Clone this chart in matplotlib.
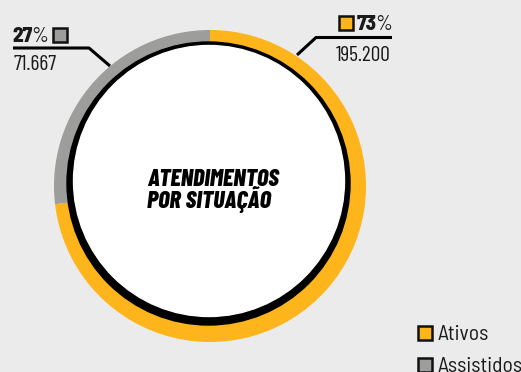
import matplotlib
matplotlib.use("Agg")
import matplotlib.pyplot as plt
from matplotlib.patches import Circle, Rectangle

# Data
categories = ["Ativos", "Assistidos"]
counts = [195200, 71667]
count_labels = ["195.200", "71.667"]
pct_labels = ["73", "27"]
colors = ["#FDB51B", "#9D9D9B"]
title_lines = ["ATENDIMENTOS", "POR SITUAÇÃO"]

FONT = "Barlow Condensed"
WIDE_FONT = "Barlow Semi Condensed"
BG = "#EBEBEB"
TXT = "#1A1A1A"
W, H = 521, 372

fig = plt.figure(figsize=(W / 100, H / 100), dpi=100, facecolor=BG)
ax = fig.add_axes([0, 0, 1, 1])
ax.set_facecolor(BG)


def Y(py):
    return H - py


# donut ring
cx, cy, R = 210, Y(186), 156
ax.pie(counts, colors=colors, startangle=90, counterclock=False,
       radius=R, center=(cx, cy), wedgeprops=dict(linewidth=0))
# inner disc with black rim
ax.add_patch(Circle((208.5, Y(183.5)), 141.5, color="black", zorder=3))
ax.add_patch(Circle((209, Y(181)), 135.5, color="white", zorder=4))

ax.set_xlim(0, W)
ax.set_ylim(0, H)
ax.set_aspect("equal")
ax.axis("off")

# center title
for i, line in enumerate(title_lines):
    ax.text(147, Y(185.5 + i * 22.5), line, family=FONT, fontsize=17.5,
            fontweight="heavy", style="italic", ha="left", va="baseline",
            color="black", zorder=5)

# leader lines
ax.plot([13, 89, 110], [Y(48), Y(48), Y(66)], color="black", lw=2.2,
        solid_capstyle="butt", zorder=5)
ax.plot([297, 316, 392], [Y(55), Y(37.5), Y(37.5)], color="black", lw=2.2,
        solid_capstyle="butt", zorder=5)


def square(x, y, c, s=14):
    ax.add_patch(Rectangle((x, Y(y) - s), s, s, facecolor=c,
                           edgecolor="#111111", lw=1.8, zorder=6))


renderer = fig.canvas.get_renderer()


def pct_text(x, ybase, value):
    t = ax.text(x, Y(ybase), value, family=WIDE_FONT, fontsize=15, fontweight="heavy",
                ha="left", va="baseline", color=TXT)
    bb = t.get_window_extent(renderer)
    ax.text(bb.x1 - 1.5, Y(ybase), "%", family=WIDE_FONT, fontsize=15,
            fontweight="normal", ha="left", va="baseline", color=TXT)


# left label (Assistidos)
pct_text(12.5, 42, pct_labels[1])
square(52.5, 27.5, colors[1])
ax.text(13, Y(70.5), count_labels[1], family=FONT, fontsize=15.5,
        fontweight="normal", ha="left", va="baseline", color=TXT)

# right label (Ativos)
square(338.5, 16, colors[0])
pct_text(356.5, 30, pct_labels[0])
ax.text(391, Y(61), count_labels[0], family=FONT, fontsize=15.5,
        fontweight="normal", ha="right", va="baseline", color=TXT)

# legend
for i, (lab, c) in enumerate(zip(categories, colors)):
    yy = 325.5 + i * 32
    square(418, yy, c)
    ax.text(437, Y(yy + 14), lab, family=WIDE_FONT, fontsize=15.5,
            fontweight="normal", ha="left", va="baseline", color=TXT)

fig.savefig("out.png", dpi=100, facecolor=BG)
